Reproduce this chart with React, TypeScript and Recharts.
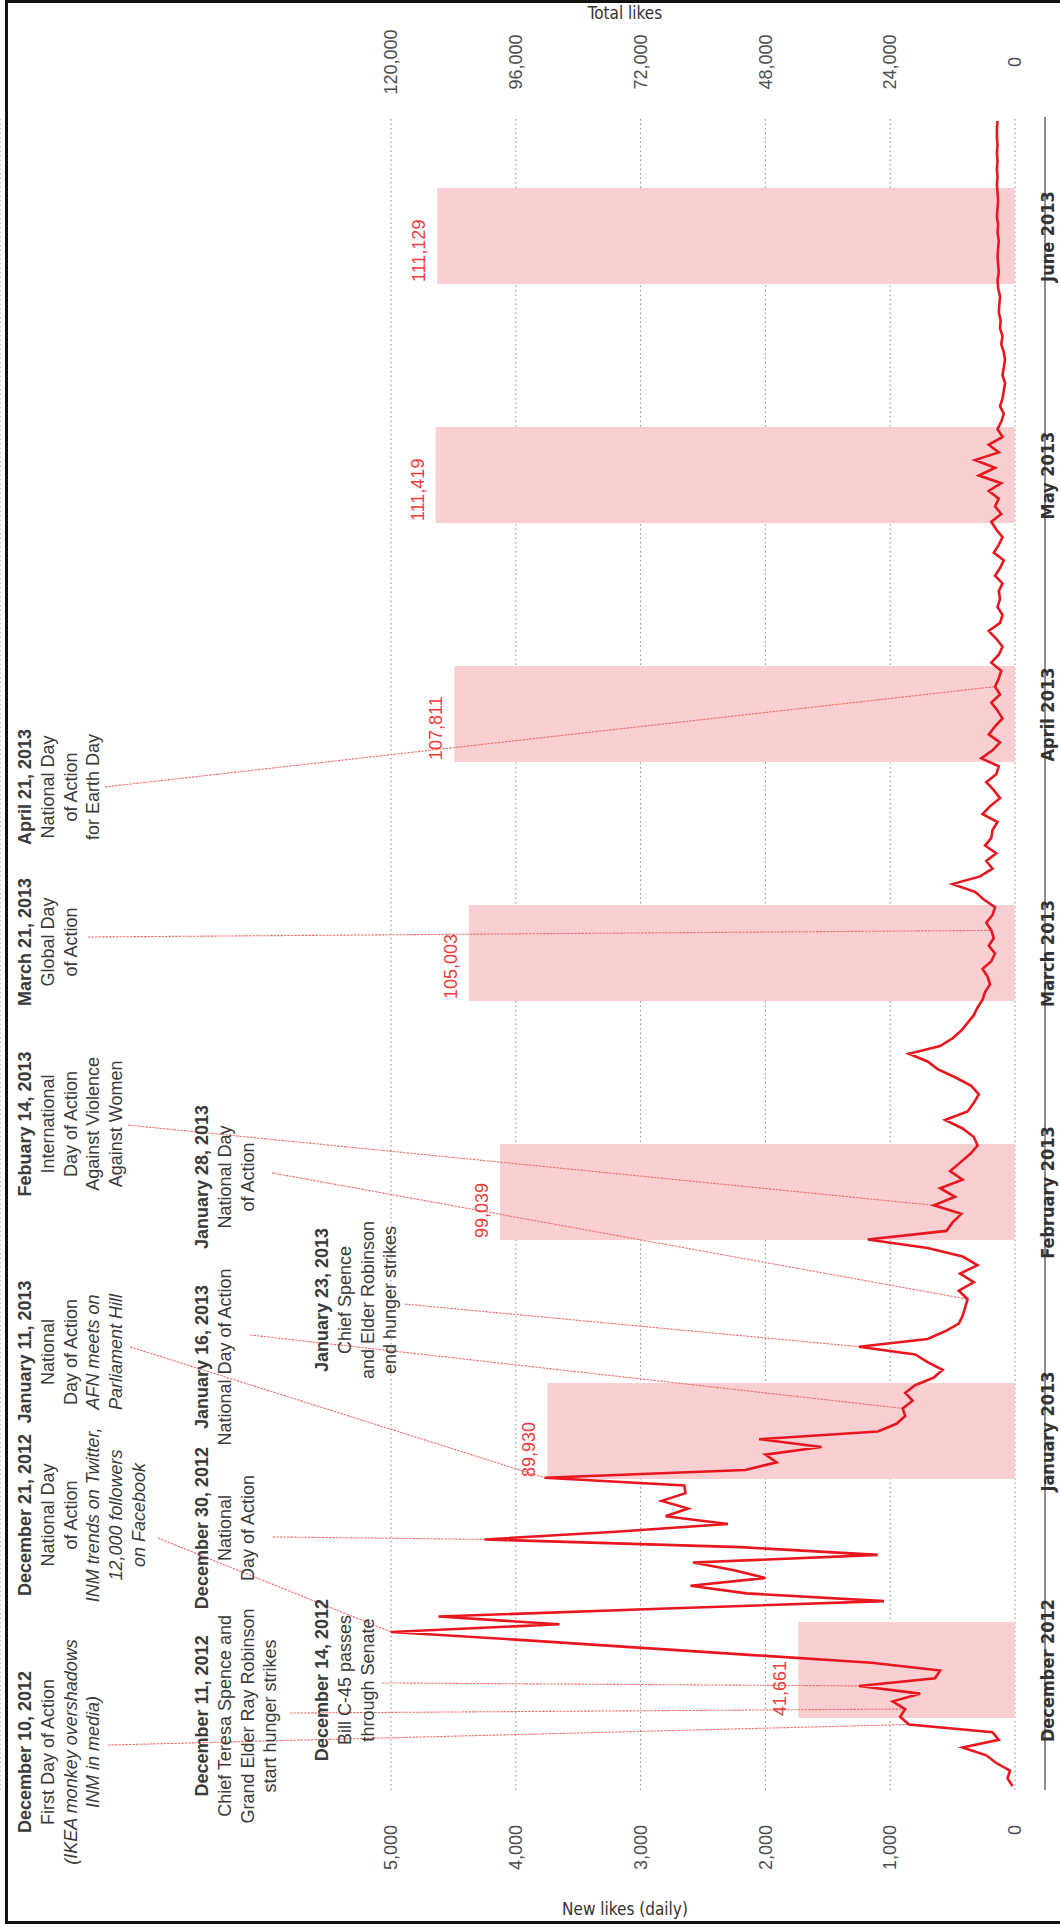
import React from "react";
import {
  ComposedChart,
  Line,
  Bar,
  XAxis,
  YAxis,
  CartesianGrid,
  ReferenceLine,
  ReferenceDot,
  LabelList,
} from "recharts";

// months shown as bands, each bar is the running total at that month
const months = ["December 2012", "January 2013", "February 2013", "March 2013", "April 2013", "May 2013", "June 2013"];
const monthDays = [31, 31, 28, 31, 30, 31, 30];
const totalLikes = [41661, 89930, 99039, 105003, 107811, 111419, 111129];

// new likes per day
const decNew = [20, 60, 40, 150, 230, 420, 130, 180, 850, 920, 880, 980, 760, 1250, 640, 600, 1150, 2100, 3050, 4000, 5000, 3650, 4620, 2850, 1050, 2150, 2600, 2000, 2250, 2580, 1100];
const janNew = [2200, 4250, 3200, 2300, 2800, 2620, 2830, 2640, 2650, 3770, 2160, 1910, 2000, 1550, 2050, 1100, 950, 880, 900, 820, 880, 800, 650, 580, 700, 800, 1250, 700, 560, 450, 420];
const febNew = [400, 380, 450, 330, 440, 300, 420, 700, 1180, 550, 500, 430, 650, 480, 600, 420, 520, 440, 360, 300, 330, 420, 560, 380, 330, 290, 350, 480];
const marNew = [620, 700, 850, 600, 500, 430, 380, 330, 300, 260, 240, 200, 220, 260, 190, 160, 210, 170, 190, 230, 180, 160, 250, 320, 500, 280, 180, 230, 150, 240, 190];
const aprNew = [180, 140, 260, 200, 120, 170, 230, 150, 130, 270, 180, 120, 210, 160, 100, 140, 190, 120, 160, 130, 110, 190, 130, 100, 150, 210, 120, 100, 140, 120];
const mayNew = [130, 100, 160, 120, 90, 170, 130, 100, 150, 190, 110, 160, 130, 210, 110, 290, 160, 320, 130, 210, 100, 140, 110, 90, 120, 100, 90, 80, 100, 90, 80];
const junNew = [90, 110, 100, 120, 115, 130, 125, 120, 135, 140, 130, 135, 140, 135, 130, 140, 135, 145, 140, 135, 140, 145, 140, 145, 140, 145, 140, 145, 145, 140];
const dailyByMonth = [decNew, janNew, febNew, marNew, aprNew, mayNew, junNew];

const leftTicks = [0, 1000, 2000, 3000, 4000, 5000];
const rightTicks = [0, 24000, 48000, 72000, 96000, 120000];

// event notes; "at" = [month index, day] where the pointer meets the line
const notes = [
  { lines: ["December 10, 2012", "First Day of Action", "(IKEA monkey overshadows", "INM in media)"], italic: [2, 3], at: [0, 9] },
  { lines: ["December 11, 2012", "Chief Teresa Spence and", "Grand Elder Ray Robinson", "start hunger strikes"], italic: [], at: [0, 11] },
  { lines: ["December 14, 2012", "Bill C-45 passes", "through Senate"], italic: [], at: [0, 14] },
  { lines: ["December 21, 2012", "National Day", "of Action", "INM trends on Twitter,", "12,000 followers", "on Facebook"], italic: [3, 4, 5], at: [0, 21] },
  { lines: ["December 30, 2012", "National", "Day of Action"], italic: [], at: [1, 2] },
  { lines: ["January 11, 2013", "National", "Day of Action", "AFN meets on", "Parliament Hill"], italic: [3, 4], at: [1, 10] },
  { lines: ["January 16, 2013", "National Day of Action"], italic: [], at: [1, 19] },
  { lines: ["January 23, 2013", "Chief Spence", "and Elder Robinson", "end hunger strikes"], italic: [], at: [1, 27] },
  { lines: ["January 28, 2013", "National Day", "of Action"], italic: [], at: [2, 2] },
  { lines: ["Febuary 14, 2013", "International", "Day of Action", "Against Violence", "Against Women"], italic: [], at: [2, 13] },
  { lines: ["March 21, 2013", "Global Day", "of Action"], italic: [], at: [3, 19] },
  { lines: ["April 21, 2013", "National Day", "of Action", "for Earth Day"], italic: [], at: [4, 19] },
];

// where each note sits (month position, text row) and where its pointer starts
const noteSpots = [
  { t: 0.159, row: 0, lead: [0.188, 7268] },
  { t: 0.31, row: 1, lead: [0.322, 5809] },
  { t: 0.46, row: 2, lead: [0.448, 5072] },
  { t: 1.151, row: 0, lead: [1.054, 6867] },
  { t: 1.096, row: 1, lead: [1.059, 5946] },
  { t: 1.833, row: 0, lead: [1.854, 7091] },
  { t: 1.812, row: 1, lead: [1.904, 6130] },
  { t: 2.05, row: 2, lead: [2.033, 4888] },
  { t: 2.565, row: 1, lead: [2.582, 5954] },
  { t: 2.787, row: 0, lead: [2.782, 7107] },
  { t: 3.548, row: 0, lead: [3.569, 7428] },
  { t: 4.197, row: 0, lead: [4.197, 7292] },
];
const rowLevels = [7933, 6514, 5553];

// the chart is laid out lying on its side and turned upright at the end
const W = 1927;
const H = 1060;
const LEFT_MAX = 8133;
const RIGHT_MAX = LEFT_MAX * 24;

const SANS = "'Liberation Sans', Arial, Helvetica, sans-serif";
const NARROW = "'Liberation Sans Narrow', 'Arial Narrow', 'DejaVu Sans Condensed', sans-serif";

const monthData = months.map((month, i) => ({ month, total: totalLikes[i] }));
const dailyData = dailyByMonth.flatMap((vals, m) =>
  vals.map((likes, i) => ({ t: m + (i + 0.5) / monthDays[m], likes }))
);
const fmt = (n: number) => n.toLocaleString("en-US");
const posOf = (m: number, d: number) => m + (d - 0.5) / monthDays[m];

const MonthTick = (props: any) => {
  const { x, payload } = props;
  return (
    <text x={x} y={H - 6} textAnchor="middle" fill="#333" fontFamily={NARROW} fontWeight="bold" fontSize={18}>
      {payload.value}
    </text>
  );
};

const LeftTick = (props: any) => {
  const { y, payload } = props;
  return (
    <text x={102} y={y} dy="0.35em" textAnchor="end" fill="#4d4d4d" fontFamily={SANS} fontSize={18}>
      {fmt(payload.value)}
    </text>
  );
};

const RightTick = (props: any) => {
  const { y, payload } = props;
  return (
    <text x={W - 62} y={y} dy="0.35em" textAnchor="middle" fill="#4d4d4d" fontFamily={SANS} fontSize={18}>
      {fmt(payload.value)}
    </text>
  );
};

const BarTag = (props: any) => {
  const { x, y, value } = props;
  return (
    <text x={x + 2} y={y - 12} fill="#ee3b3b" fontFamily={SANS} fontSize={18}>
      {fmt(value)}
    </text>
  );
};

const NoteText = ({ cx, cy, lines, italic }: any) => (
  <text textAnchor="middle" fill="#3a3a3a" fontFamily={SANS} fontSize={18}>
    {lines.map((s: string, i: number) => (
      <tspan
        key={i}
        x={cx}
        y={cy + i * 22.7}
        dy="0.35em"
        fontWeight={i === 0 ? "bold" : "normal"}
        fontStyle={italic.includes(i) ? "italic" : "normal"}
      >
        {s}
      </tspan>
    ))}
  </text>
);

const Chart = () => (
  <ComposedChart width={W} height={H} data={monthData} margin={{ top: 0, right: 0, bottom: 0, left: 0 }}>
    <CartesianGrid xAxisId="d" yAxisId="l" vertical={false} stroke="#8a8a8a" strokeDasharray="1.5 3" />
    <XAxis
      xAxisId="m"
      dataKey="month"
      type="category"
      height={45}
      interval={0}
      tickLine={false}
      tickSize={0}
      tickMargin={0}
      axisLine={{ stroke: "#8c8c8c", strokeWidth: 2 }}
      tick={<MonthTick />}
    />
    <XAxis xAxisId="d" dataKey="t" type="number" domain={[0, 7]} allowDataOverflow hide />
    <YAxis
      yAxisId="l"
      domain={[0, LEFT_MAX]}
      ticks={leftTicks}
      allowDataOverflow
      width={137}
      interval={0}
      axisLine={false}
      tickLine={false}
      tickSize={0}
      tickMargin={0}
      tick={<LeftTick />}
      label={{
        content: () => (
          <text transform="translate(18,625) rotate(90)" textAnchor="middle" dominantBaseline="central" fill="#333" fontFamily={NARROW} fontSize={17}>
            New likes (daily)
          </text>
        ),
      }}
    />
    <YAxis
      yAxisId="r"
      orientation="right"
      domain={[0, RIGHT_MAX]}
      ticks={rightTicks}
      allowDataOverflow
      width={117}
      interval={0}
      axisLine={false}
      tickLine={false}
      tickSize={0}
      tickMargin={0}
      tick={<RightTick />}
      label={{
        content: () => (
          <text transform={`translate(${W - 13},625) rotate(90)`} textAnchor="middle" dominantBaseline="central" fill="#333" fontFamily={NARROW} fontSize={17}>
            Total likes
          </text>
        ),
      }}
    />
    <Bar xAxisId="m" yAxisId="r" dataKey="total" fill="#f9cfd2" barSize={96} isAnimationActive={false}>
      <LabelList dataKey="total" content={<BarTag />} />
    </Bar>
    {notes.map((n, i) => {
      const [m, d] = n.at;
      const spot = noteSpots[i];
      return (
        <ReferenceLine
          key={`lead-${i}`}
          xAxisId="d"
          yAxisId="l"
          ifOverflow="visible"
          segment={[
            { x: spot.lead[0], y: spot.lead[1] },
            { x: posOf(m, d), y: dailyByMonth[m][d - 1] },
          ]}
          stroke="#ef7070"
          strokeWidth={1.1}
          strokeDasharray="2.5 1"
        />
      );
    })}
    <Line
      xAxisId="d"
      yAxisId="l"
      data={dailyData}
      dataKey="likes"
      type="linear"
      stroke="#e8161e"
      strokeWidth={2.6}
      dot={false}
      isAnimationActive={false}
    />
    {notes.map((n, i) => (
      <ReferenceDot
        key={`note-${i}`}
        xAxisId="d"
        yAxisId="l"
        x={noteSpots[i].t}
        y={rowLevels[noteSpots[i].row]}
        r={1}
        ifOverflow="visible"
        shape={(p: any) => <NoteText cx={p.cx} cy={p.cy} lines={n.lines} italic={n.italic} />}
      />
    ))}
  </ComposedChart>
);

export default function App() {
  return (
    <div style={{ position: "absolute", left: 0, top: 0, width: 1060, height: 1927, overflow: "hidden", background: "#fff" }}>
      <div
        style={{
          position: "absolute",
          left: 0,
          top: 0,
          width: W,
          height: H,
          transformOrigin: "0 0",
          transform: `translate(0px, ${W}px) rotate(-90deg)`,
        }}
      >
        <Chart />
      </div>
      <div
        style={{
          position: "absolute",
          left: 5,
          top: 0,
          width: 1062,
          height: 1924,
          border: "3px solid #111",
          boxSizing: "border-box",
          pointerEvents: "none",
        }}
      />
    </div>
  );
}
